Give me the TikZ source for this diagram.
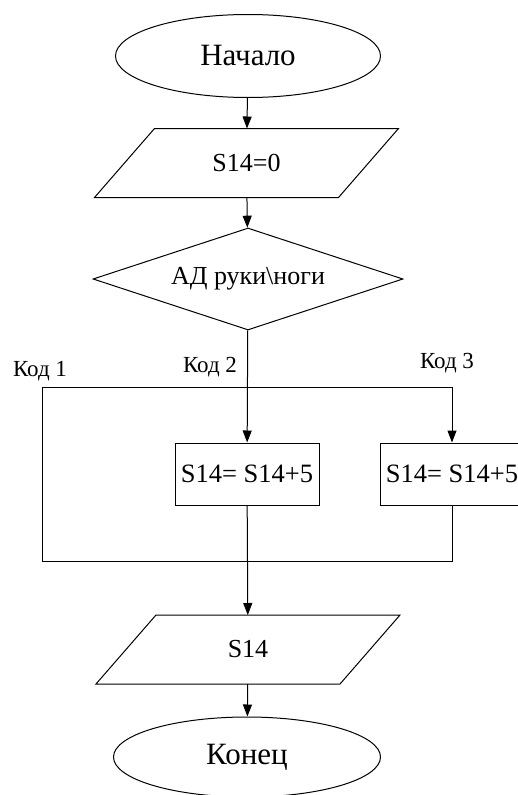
\documentclass[tikz,border=0pt]{standalone}
\usepackage{fontspec}
\setmainfont{Liberation Serif}
\usetikzlibrary{shapes.geometric,arrows.meta}

\begin{document}
\begin{tikzpicture}[x=1pt,y=-1pt,
    line width=1pt,
    arr/.style={-{Triangle[length=12pt,width=9pt]}},
    term/.style={draw,ellipse,inner sep=0pt,font=\fontsize{31}{36}\selectfont},
    io/.style={rectangle,minimum width=243,minimum height=68,inner sep=0pt,
        font=\fontsize{26}{30}\selectfont},
    cond/.style={draw,diamond,shape aspect=3.04,minimum width=310,minimum height=102,
        inner sep=0pt,font=\fontsize{26}{30}\selectfont},
    proc/.style={draw,rectangle,minimum width=144,minimum height=62,inner sep=0pt,
        font=\fontsize{26.5}{30}\selectfont},
    lbl/.style={font=\fontsize{23}{27}\selectfont}]
\useasboundingbox (0,0) rectangle (518,795);
\clip (0,0) rectangle (518,795);

% blocks
\node[term,minimum width=265,minimum height=83] (start) at (248,56) {Начало};
\node[io] (init) at (246.5,163) {S14=0};
\node[cond] (ad) at (248,279) {АД руки\textbackslash ноги};
\node[proc] (add2) at (247,474) {S14= S14+5};
\node[proc] (add3) at (452,474) {S14= S14+5};
\node[io] (res) at (248,649.5) {S14};
\node[term,minimum width=267,minimum height=80] (stop) at (247,757) {Конец};

% slanted outlines of the data blocks
\foreach \n in {init,res}
  \draw ([xshift=30]\n.north west) -- ([xshift=30]\n.north east)
     -- ([xshift=-30]\n.south east) -- ([xshift=-30]\n.south west) -- cycle;

% branch labels
\node[lbl] (k1) at (40,371) {Код 1};
\node[lbl] (k2) at (210,367) {Код 2};
\node[lbl] (k3) at (447,363) {Код 3};

% branch and join lines
\coordinate (sl) at (42,387);
\coordinate (sr) at (452,387);
\coordinate (jl) at (42,561);
\coordinate (jr) at (452,561);

\draw[arr] (start) -- (init);
\draw[arr] (init) -- (ad);
\draw[arr] (ad) -- (add2);
\draw (sl) -- (sr);
\draw[arr] (sr) -- (add3);
\draw (sl) -- (jl) -- (jr) -- (add3);
\draw[arr] (add2) -- (res);
\draw[arr] (res) -- (stop);
\end{tikzpicture}
\end{document}
